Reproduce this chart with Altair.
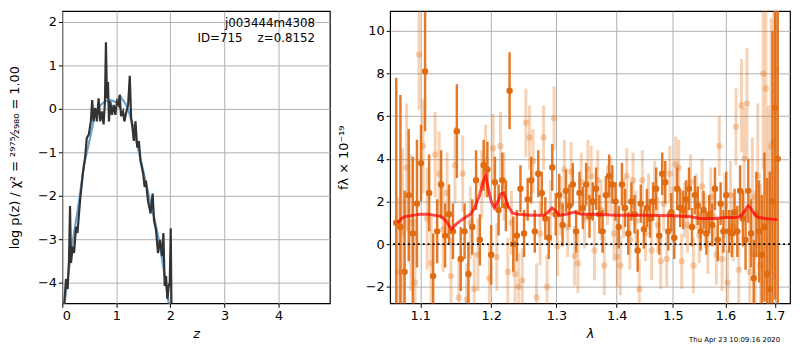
import altair as alt
import pandas as pd

# ---------------- left panel: p(z) ----------------
z_black = [0.03, 0.068, 0.099, 0.124, 0.143, 0.161, 0.193, 0.217, 0.255, 0.28, 0.329, 0.379, 0.422,
           0.453, 0.491, 0.528, 0.553, 0.578, 0.609, 0.64, 0.671, 0.702, 0.733, 0.764, 0.789, 0.807,
           0.826, 0.845, 0.863, 0.888, 0.919, 0.95, 0.981, 1.012, 1.043, 1.062, 1.087, 1.124, 1.149,
           1.186, 1.217, 1.248, 1.273, 1.298, 1.323, 1.354, 1.385, 1.416, 1.447, 1.497, 1.522, 1.547,
           1.584, 1.634, 1.671, 1.696, 1.733, 1.77, 1.807, 1.845, 1.87, 1.894, 1.919, 1.944, 1.969,
           1.988, 2.006, 2.019]
lp_black = [-4.6, -3.92, -4.15, -3.47, -2.24, -3.55, -3.17, -3.32, -2.71, -2.86, -2.11, -1.5, -1.12,
            -0.67, -0.59, -0.29, 0.2, -0.29, 0.02, -0.29, 0.24, -0.29, -0.06, -0.36, 0.17, 1.53,
            0.24, 0.62, -0.29, 0.17, -0.14, 0.09, -0.14, 0.17, 0.09, 0.32, -0.17, -0.06, -0.29,
            -0.06, 0.09, 0.76, -0.21, -0.44, -0.74, -0.29, -0.89, -0.74, -1.2, -1.5, -1.8, -1.65,
            -2.11, -2.41, -1.95, -2.56, -2.79, -3.32, -3.02, -3.39, -2.86, -4.08, -3.85, -4.38, -4.08,
            -4.0, -2.75, -4.6]
z_blue = [0.03, 0.1, 0.2, 0.3, 0.4, 0.5, 0.6, 0.7, 0.8, 0.9, 1.0, 1.07, 1.15, 1.2, 1.3, 1.4, 1.5,
          1.6, 1.7, 1.8, 1.9, 1.96, 2.0]
lp_blue = [-4.6, -3.9, -3.0, -2.2, -1.3, -0.75, -0.15, 0.08, 0.18, 0.2, 0.15, 0.3, 0.15, 0.05,
           -0.35, -0.9, -1.45, -2.0, -2.5, -3.1, -3.9, -4.4, -4.7]

# ---------------- right panel: spectrum ----------------
wave_a = [1.068, 1.0735, 1.079, 1.0845, 1.090, 1.0955, 1.101, 1.1065, 1.112, 1.1175, 1.123, 1.1285,
          1.134, 1.1395, 1.145, 1.1505, 1.156, 1.1615, 1.167, 1.1725, 1.178, 1.1835, 1.189, 1.1945,
          1.200, 1.2055, 1.211, 1.2165, 1.222, 1.2275, 1.233, 1.2385, 1.244, 1.2495, 1.255, 1.2605,
          1.266, 1.2715, 1.277, 1.2825, 1.288, 1.2935, 1.299, 1.3045, 1.310, 1.3155, 1.321, 1.3265,
          1.332, 1.3375, 1.343, 1.3485, 1.354, 1.3595, 1.365, 1.3705, 1.376, 1.3815, 1.387, 1.3925,
          1.398, 1.4035, 1.409, 1.4145, 1.420, 1.4255, 1.431, 1.4365, 1.442, 1.4475, 1.453, 1.4585,
          1.464, 1.4695, 1.475, 1.4805, 1.486, 1.4915, 1.497, 1.5025, 1.508, 1.5135, 1.519, 1.5245,
          1.530, 1.5355, 1.541, 1.5465, 1.552, 1.5575, 1.563, 1.5685, 1.574, 1.5795, 1.585, 1.5905,
          1.596, 1.6015, 1.607, 1.6125, 1.618, 1.6235, 1.629, 1.6345, 1.640, 1.6455, 1.651, 1.6565,
          1.662, 1.6675, 1.673, 1.6785, 1.684, 1.6895, 1.695, 1.7005, 1.706]
flux_a = [1.0, 0.8, -1.3, 2.3, 0.5, 1.9, 3.8, 8.1, 2.4, -1.5, 0.6, 2.8, 0.4, 1.4, 0.6, 5.3, -0.7,
          0.6, -1.4, 0.8, 3.0, 0.2, 3.7, 3.5, -0.5, 2.9, 1.6, 3.0, 1.8, 7.2, 0.0, 0.4, 2.6, 0.5, 2.1,
          3.0, 0.6, 3.3, 2.4, 1.2, 0.3, 3.6, 1.4, 2.3, 0.9, 2.5, 1.8, 2.8, 0.6, 2.4, 1.7, 2.8, 1.3,
          2.0, 2.6, 1.4, 0.6, 2.3, 3.2, 2.8, 2.0, 0.8, 2.8, 1.7, 0.5, 2.0, 1.4, -0.3, 1.9, 0.7, 1.7,
          1.2, 2.0, 2.6, 0.4, 3.3, 2.9, 0.6, 1.5, 0.3, 2.6, 1.7, 1.6, 2.1, 2.6, 0.8, 2.3, 1.8, 0.6,
          1.6, 0.5, 1.4, 0.9, 2.6, 0.2, 1.9, 0.6, 2.3, 0.6, 0.5, 1.5, 0.6, 2.5, 1.2, 0.2, 2.5, 0.5,
          -1.6, 1.4, 0.6, -0.5, 0.8, -1.4, -2.1, 2.0, 6.4, 4.0]
err_a = [6.8, 6.2, 3.8, 3.1, 3.6, 3.0, 1.8, 2.8, 1.8, 2.0, 1.5, 1.6, 1.5, 1.4, 1.3, 2.2, 1.5, 1.3,
         1.5, 1.3, 1.4, 1.2, 1.2, 1.3, 1.4, 1.2, 1.2, 1.3, 1.2, 1.8, 1.3, 1.2, 1.1, 1.1, 1.0, 1.1,
         1.0, 1.1, 1.0, 1.0, 1.0, 1.1, 1.0, 1.0, 1.0, 1.0, 1.0, 1.0, 1.0, 1.0, 1.0, 1.0, 1.0, 0.9,
         1.0, 0.9, 1.0, 0.9, 1.0, 0.9, 0.9, 1.0, 1.0, 0.9, 1.0, 0.9, 0.9, 1.0, 0.9, 0.9, 0.9, 0.9,
         0.9, 1.0, 0.9, 1.0, 1.0, 0.9, 0.9, 1.0, 1.0, 0.9, 0.9, 0.9, 1.0, 0.9, 0.9, 0.9, 0.9, 0.9,
         1.0, 0.9, 1.0, 1.0, 1.0, 1.0, 1.0, 1.1, 1.0, 1.1, 1.1, 1.2, 1.2, 1.3, 1.4, 1.5, 1.6, 1.8,
         2.0, 2.4, 2.8, 3.5, 4.5, 5.5, 8.0, 9.0, 10.0]

wave_b = [1.0708, 1.0763, 1.0818, 1.0873, 1.0928, 1.0983, 1.1038, 1.1093, 1.1148, 1.1203, 1.1258,
          1.1313, 1.1368, 1.1423, 1.1478, 1.1533, 1.1588, 1.1643, 1.1698, 1.1753, 1.1808, 1.1863,
          1.1918, 1.1973, 1.2028, 1.2083, 1.2138, 1.2193, 1.2248, 1.2303, 1.2358, 1.2413, 1.2468,
          1.2523, 1.2578, 1.2633, 1.2688, 1.2743, 1.2798, 1.2853, 1.2908, 1.2963, 1.3018, 1.3073,
          1.3128, 1.3183, 1.3238, 1.3293, 1.3348, 1.3403, 1.3458, 1.3513, 1.3568, 1.3623, 1.3678,
          1.3733, 1.3788, 1.3843, 1.3898, 1.3953, 1.4008, 1.4063, 1.4118, 1.4173, 1.4228, 1.4283,
          1.4338, 1.4393, 1.4448, 1.4503, 1.4558, 1.4613, 1.4668, 1.4723, 1.4778, 1.4833, 1.4888,
          1.4943, 1.4998, 1.5053, 1.5108, 1.5163, 1.5218, 1.5273, 1.5328, 1.5383, 1.5438, 1.5493,
          1.5548, 1.5603, 1.5658, 1.5713, 1.5768, 1.5823, 1.5878, 1.5933, 1.5988, 1.6043, 1.6098,
          1.6153, 1.6208, 1.6263, 1.6318, 1.6373, 1.6428, 1.6483, 1.6538, 1.6593, 1.6648, 1.6703,
          1.6758, 1.6813, 1.6868, 1.6923, 1.6978, 1.7033]
flux_b = [-1.3, 0.5, 3.6, 1.0, -1.8, 8.9, 4.6, 1.2, -0.9, 4.2, 3.3, 0.7, 2.4, -1.5, 3.7, -2.5, 3.3,
          -2.6, 1.0, -2.1, -0.5, 2.8, 3.9, -1.6, 4.5, -0.6, 4.6, 2.7, -1.3, 1.0, -1.4, -2.0, -1.7,
          5.7, 5.0, 3.9, -2.5, 0.5, 5.0, -2.0, 1.5, 5.9, -0.1, 1.8, 3.5, 0.8, 3.4, -0.55, -0.9, 2.9,
          1.2, 3.5, 3.2, -0.3, 3.0, 1.6, -1.0, 2.3, 2.8, 0.5, -0.6, -1.0, 1.7, 3.2, 0.2, 3.0, 1.1,
          -2.1, 3.0, 0.5, 2.0, -0.3, 2.6, 0.9, -0.8, 1.9, -0.7, 3.3, 1.4, 3.75, 3.6, -0.8, 1.6, 0.9,
          2.9, -1.0, 2.0, 0.4, 2.7, 1.1, 0.0, 2.2, 1.3, -0.5, 4.6, -0.7, 1.8, -1.8, 2.3, 0.8, 5.5,
          -1.2, 6.5, 4.0, 6.6, -1.3, 2.2, -0.5, 3.2, -1.0, 8.0, 7.3, 1.0, 4.6, 4.8, 8.2]
err_b = [3.5, 4.0, 3.0, 3.2, 3.0, 2.6, 2.2, 2.4, 2.2, 2.0, 2.0, 2.0, 1.9, 1.8, 1.8, 1.8, 1.8, 1.7,
         1.7, 1.7, 1.7, 1.6, 1.7, 1.6, 1.6, 1.6, 1.6, 1.6, 1.6, 1.5, 1.6, 1.6, 1.5, 1.6, 1.5, 1.5,
         1.6, 1.5, 1.5, 1.5, 1.5, 1.5, 1.4, 1.4, 1.4, 1.4, 1.4, 1.4, 1.4, 1.4, 1.4, 1.4, 1.4, 1.4,
         1.4, 1.4, 1.4, 1.4, 1.3, 1.3, 1.4, 1.4, 1.4, 1.3, 1.4, 1.3, 1.4, 1.4, 1.4, 1.3, 1.3, 1.4,
         1.3, 1.3, 1.3, 1.3, 1.3, 1.3, 1.3, 1.3, 1.3, 1.3, 1.3, 1.3, 1.3, 1.3, 1.3, 1.3, 1.3, 1.3,
         1.4, 1.4, 1.4, 1.4, 1.4, 1.5, 1.5, 1.5, 1.6, 1.6, 1.8, 1.8, 2.2, 2.4, 2.6, 2.6, 2.8, 3.0,
         3.4, 3.8, 4.5, 5.0, 5.5, 6.0, 6.5, 7.0]

wave_m = [1.070, 1.075, 1.080, 1.090, 1.100, 1.110, 1.120, 1.128, 1.135, 1.143, 1.150, 1.160, 1.170,
          1.176, 1.183, 1.188, 1.192, 1.196, 1.200, 1.205, 1.210, 1.214, 1.219, 1.225, 1.232, 1.240,
          1.260, 1.280, 1.287, 1.293, 1.298, 1.305, 1.315, 1.330, 1.340, 1.360, 1.380, 1.400, 1.450,
          1.500, 1.530, 1.550, 1.580, 1.600, 1.620, 1.630, 1.638, 1.645, 1.650, 1.657, 1.665, 1.680,
          1.705]
flux_m = [1.0, 1.2, 1.3, 1.35, 1.4, 1.4, 1.35, 1.3, 1.1, 0.7, 0.95, 1.2, 1.4, 1.7, 2.3, 2.9, 3.2,
          2.6, 2.0, 1.7, 2.0, 2.35, 2.4, 1.8, 1.45, 1.4, 1.35, 1.35, 1.5, 1.7, 1.6, 1.35, 1.4, 1.5,
          1.4, 1.4, 1.38, 1.35, 1.35, 1.33, 1.3, 1.2, 1.2, 1.25, 1.25, 1.3, 1.55, 1.8, 1.7, 1.45,
          1.25, 1.2, 1.15]

# ---------------- frames ----------------
df_black = pd.DataFrame({"z": z_black, "lp": lp_black})
df_blue = pd.DataFrame({"z": z_blue, "lp": lp_blue})
df_a = pd.DataFrame({"w": wave_a, "f": flux_a, "e": err_a})
df_a["lo"] = df_a["f"] - df_a["e"]
df_a["hi"] = df_a["f"] + df_a["e"]
df_b = pd.DataFrame({"w": wave_b, "f": flux_b, "e": err_b})
df_b["lo"] = df_b["f"] - df_b["e"]
df_b["hi"] = df_b["f"] + df_b["e"]
df_m = pd.DataFrame({"w": wave_m, "f": flux_m})

ORANGE = "#e06c12"
FONT = "DejaVu Sans"

zx = alt.Scale(domain=[0, 4.95], nice=False, zero=False)
zy = alt.Scale(domain=[-4.48, 2.25], nice=False, zero=False)
X_l = alt.X("z:Q", scale=zx, axis=alt.Axis(values=[0, 1, 2, 3, 4], title="z", titleFontStyle="italic"))
Y_l = alt.Y("lp:Q", scale=zy,
            axis=alt.Axis(values=[-4, -3, -2, -1, 0, 1, 2], minExtent=25, maxExtent=25,
                          title="log p(z) / χ² = ²⁹⁷⁵⁄₂₉₈₀ = 1.00", titlePadding=16))

blue = alt.Chart(df_blue).mark_line(color="#6aa3d0", strokeWidth=2.2, clip=True).encode(x=X_l, y=Y_l)
black = alt.Chart(df_black).mark_line(color="#333333", strokeWidth=2.2, clip=True).encode(x=X_l, y=Y_l)
ann = pd.DataFrame({"t": ["j003444m4308", "ID=715\u00a0\u00a0\u00a0\u00a0z=0.8152"], "yy": [12, 27]})
ann_txt = alt.Chart(ann).mark_text(align="right", baseline="middle", font=FONT, fontSize=12,
                                   color="black").encode(x=alt.value(256), y=alt.Y("yy:Q", scale=None),
                                                         text="t:N")
left = alt.layer(blue, black, ann_txt).properties(width=271, height=296)

wx = alt.Scale(type="log", domain=[1.06, 1.732], nice=False, zero=False)
wy = alt.Scale(domain=[-2.78, 10.93], nice=False, zero=False)
X_r = alt.X("w:Q", scale=wx, axis=alt.Axis(values=[1.1, 1.2, 1.3, 1.4, 1.5, 1.6, 1.7], format=".1f",
                                            title="λ", titleFontStyle="italic"))
AX_R = alt.Axis(values=[-2, 0, 2, 4, 6, 8, 10], title="fλ × 10⁻¹⁹", titlePadding=15,
                minExtent=25, maxExtent=25)
Y_r = alt.Y("f:Q", scale=wy, axis=AX_R)
Y_lo = alt.Y("lo:Q", scale=wy, axis=AX_R)

bars_b = alt.Chart(df_b).mark_rule(color=ORANGE, opacity=0.3, strokeWidth=3, clip=True).encode(
    x=X_r, y=Y_lo, y2="hi:Q")
pts_b = alt.Chart(df_b).mark_circle(color=ORANGE, opacity=0.3, size=42, clip=True).encode(x=X_r, y=Y_r)
bars_a = alt.Chart(df_a).mark_rule(color=ORANGE, opacity=0.9, strokeWidth=2.5, clip=True).encode(
    x=X_r, y=Y_lo, y2="hi:Q")
pts_a = alt.Chart(df_a).mark_circle(color=ORANGE, opacity=1, size=42, clip=True).encode(x=X_r, y=Y_r)
model = alt.Chart(df_m).mark_line(color="red", opacity=0.7, strokeWidth=3, clip=True).encode(x=X_r, y=Y_r)
zero = alt.Chart(pd.DataFrame({"v": [0]})).mark_rule(color="black", strokeDash=[2, 3], strokeWidth=2).encode(
    y=alt.Y("v:Q", scale=wy, axis=AX_R))
stamp = alt.Chart(pd.DataFrame({"t": ["Thu Apr 23 10:09:16 2020"]})).mark_text(
    align="right", baseline="middle", font=FONT, fontSize=7, color="black").encode(
    x=alt.value(395), y=alt.value(333), text="t:N")
right = alt.layer(bars_b, pts_b, bars_a, pts_a, model, zero, stamp).properties(width=405, height=296)

chart = alt.hconcat(left, right, spacing=6).properties(
    padding={"left": 0, "top": 0, "right": 0, "bottom": 0}
).configure_view(stroke="black", strokeWidth=1.2).configure_axis(
    grid=True, gridColor="#b0b0b0", gridWidth=1, domain=False, tickColor="black", tickSize=4,
    labelFont=FONT, labelFontSize=13, labelColor="black", titleFont=FONT, titleFontSize=13,
    titleFontWeight="normal", titleColor="black", labelPadding=2
).configure_axisX(titlePadding=6)

chart.save("out.html", embed_options={"renderer": "svg", "actions": False})
